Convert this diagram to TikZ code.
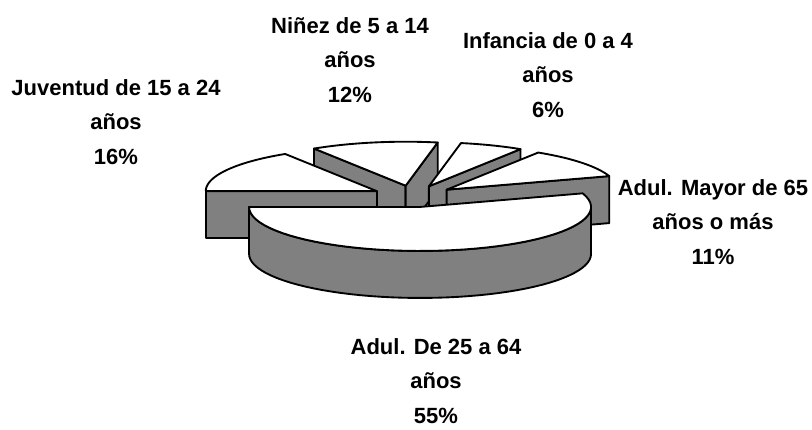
\documentclass[tikz,border=0pt]{standalone}
\usepackage{fontspec}
\setmainfont{Liberation Sans}
\usepackage{tikz}
\usetikzlibrary{calc}
\usepackage{xcolor}
\definecolor{wallgray}{HTML}{808080}

\tikzset{
  topface/.style={fill=white,draw=black,line width=1.4pt,line join=round},
  sideface/.style={fill=wallgray,draw=black,line width=1.4pt,line join=round},
  pielabel/.style={font=\bfseries\fontsize{16.5}{26}\selectfont,align=center},
}

\begin{document}
\begin{tikzpicture}[x=0.75pt,y=-0.75pt]
  \useasboundingbox (0,0) rectangle (812,429);
  % pie geometry (y runs downwards)
  \def\cx{413.5}\def\cy{196.3}\def\rx{171}\def\ry{44}\def\wallh{47}\def\pull{0.245}
  % slices back to front, angles clockwise from the top
  \foreach \s/\e in {327.6/370.8, 10.8/32.4, 270/327.6, 32.4/72, 72/270}{
    \pgfmathsetmacro\m{(\s+\e)/2}
    \pgfmathsetmacro\ax{\cx+\pull*\rx*sin(\m)}
    \pgfmathsetmacro\ay{\cy-\pull*\ry*cos(\m)}
    % cut faces
    \pgfmathtruncatemacro\showstart{sin(\s)<0}
    \pgfmathtruncatemacro\showend{sin(\e)>0}
    \ifnum\showstart=1
      \draw[sideface] (\ax,\ay) -- ({\ax+\rx*sin(\s)},{\ay-\ry*cos(\s)})
        -- ({\ax+\rx*sin(\s)},{\ay-\ry*cos(\s)+\wallh}) -- (\ax,{\ay+\wallh}) -- cycle;
    \fi
    \ifnum\showend=1
      \draw[sideface] (\ax,\ay) -- ({\ax+\rx*sin(\e)},{\ay-\ry*cos(\e)})
        -- ({\ax+\rx*sin(\e)},{\ay-\ry*cos(\e)+\wallh}) -- (\ax,{\ay+\wallh}) -- cycle;
    \fi
    % outer wall
    \pgfmathsetmacro\wa{max(\s,90)}
    \pgfmathsetmacro\wb{min(\e,270)}
    \pgfmathtruncatemacro\showwall{\wb>\wa}
    \ifnum\showwall=1
      \draw[sideface] plot[domain=\wa:\wb,samples=50] ({\ax+\rx*sin(\x)},{\ay-\ry*cos(\x)})
        -- plot[domain=\wb:\wa,samples=50] ({\ax+\rx*sin(\x)},{\ay-\ry*cos(\x)+\wallh}) -- cycle;
    \fi
    % top
    \draw[topface] (\ax,\ay) -- plot[domain=\s:\e,samples=50] ({\ax+\rx*sin(\x)},{\ay-\ry*cos(\x)}) -- cycle;
  }
  % labels
  \node[pielabel] (ninez) at (350,60) {Niñez de 5 a 14\\años\\12\%};
  \node[pielabel] (infancia) at (548,75) {Infancia de 0 a 4\\años\\6\%};
  \node[pielabel] (juventud) at (116,122) {Juventud de 15 a 24\\años\\16\%};
  \node[pielabel] (mayor) at (713,222) {Adul. Mayor de 65\\años o más\\11\%};
  \node[pielabel] (adulto) at (436,381) {Adul. De 25 a 64\\años\\55\%};
\end{tikzpicture}
\end{document}
